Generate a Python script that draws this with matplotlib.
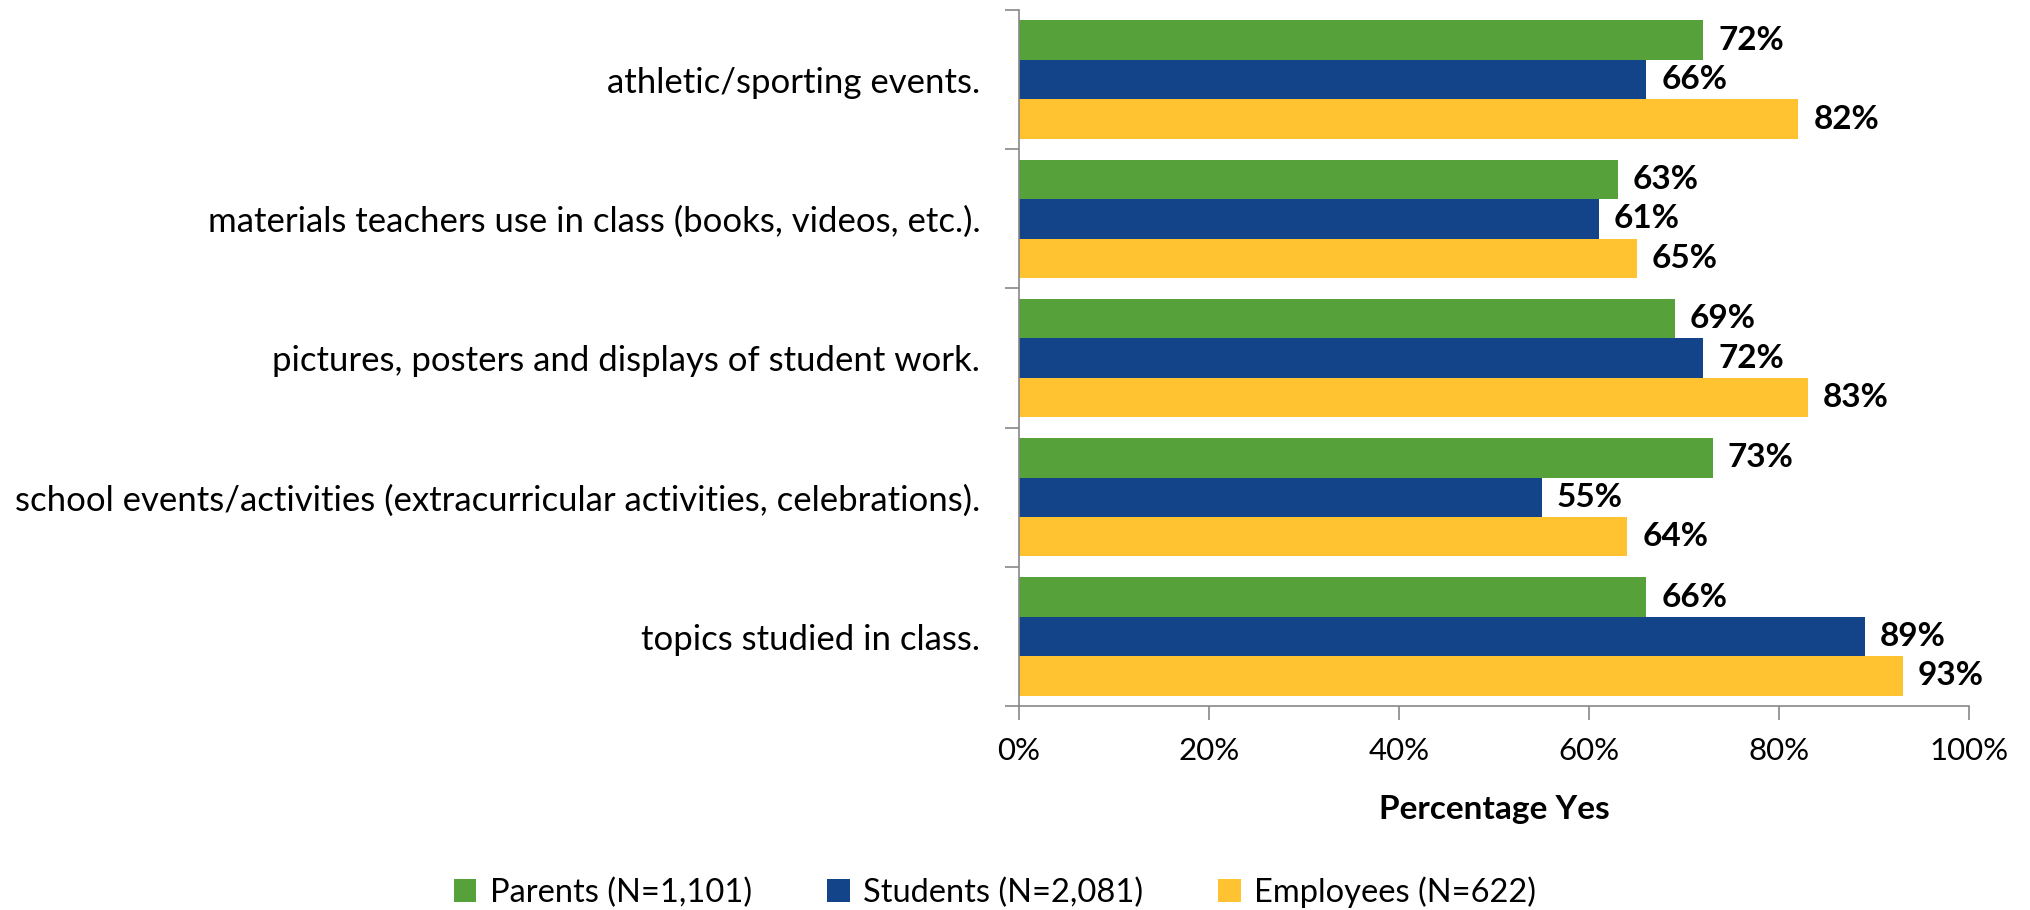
import numpy as np
import matplotlib.pyplot as plt
from matplotlib.ticker import PercentFormatter

plt.rcParams['font.family'] = ['Lato', 'DejaVu Sans']

# Datos
categorias = [
    "athletic/sporting events.",
    "materials teachers use in class (books, videos, etc.).",
    "pictures, posters and displays of student work.",
    "school events/activities (extracurricular activities, celebrations).",
    "topics studied in class.",
]
padres = [72, 63, 69, 73, 66]
estudiantes = [66, 61, 72, 55, 89]
empleados = [82, 65, 83, 64, 93]
series_nombres = ["Parents (N=1,101)", "Students (N=2,081)", "Employees (N=622)"]
colores = ["#56A13A", "#134389", "#FFC332"]

fig = plt.figure(figsize=(20.3, 9.1), dpi=100)
ax = fig.add_axes([0.502, 0.224, 0.468, 0.765])

y = np.arange(len(categorias))
h = 0.85 / 3
for k, (vals, nombre, color) in enumerate(zip([padres, estudiantes, empleados], series_nombres, colores)):
    pos = y + (k - 1) * h
    ax.barh(pos, vals, height=h, color=color, label=nombre)
    for p, v in zip(pos, vals):
        ax.text(v + 1.6, p, f"{v}%", va="center", ha="left",
                fontsize=24, fontweight="bold")

ax.set_xlim(0, 100)
ax.set_ylim(len(categorias) - 0.5, -0.5)
ax.set_xticks(np.arange(0, 101, 20))
ax.xaxis.set_major_formatter(PercentFormatter(decimals=0))
ax.set_yticks(np.arange(-0.5, len(categorias), 1.0))
ax.set_yticklabels([])
ax.set_yticks(y, minor=True)
ax.set_yticklabels(categorias, minor=True)
ax.tick_params(axis="y", which="minor", length=0, pad=28, labelsize=25)
ax.tick_params(axis="y", which="major", length=10, color="#888888", width=1.2)
ax.tick_params(axis="x", length=10, color="#888888", width=1.2, labelsize=22.5, pad=12)

for s in ["top", "right"]:
    ax.spines[s].set_visible(False)
for s in ["left", "bottom"]:
    ax.spines[s].set_color("#888888")
    ax.spines[s].set_linewidth(1.2)

ax.set_xlabel("Percentage Yes", fontsize=24, fontweight="bold", labelpad=22)

fig.legend(loc="lower center", bbox_to_anchor=(0.49, -0.03), ncol=3, frameon=False,
           fontsize=23.5, handlelength=0.7, handleheight=0.7, columnspacing=2.3,
           handletextpad=0.4)

plt.savefig("out.png", dpi=100)
